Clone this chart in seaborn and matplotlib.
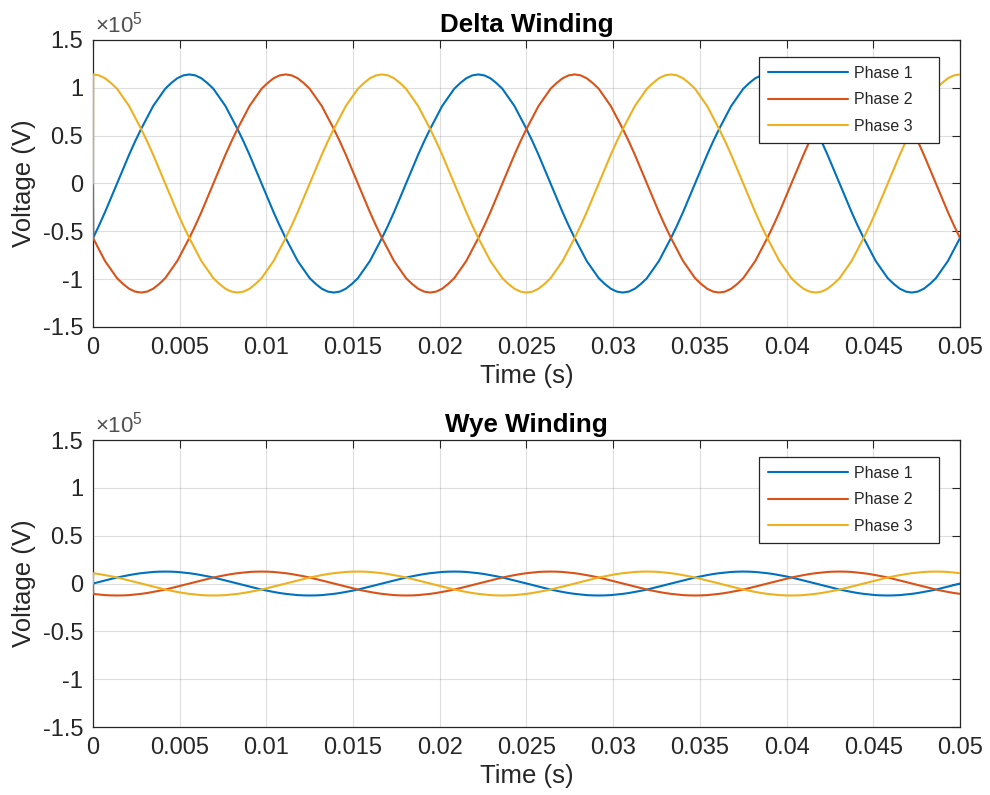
import numpy as np
import pandas as pd
import matplotlib
matplotlib.use("Agg")
import matplotlib.pyplot as plt
import seaborn as sns
from matplotlib.ticker import FuncFormatter, MultipleLocator

# sample times: t=0, then the waveform every 1/2880 s up to 0.05 s
time = np.concatenate([[0.0, 1e-5], np.arange(1, 145) / 2880])

# voltages in units of 1e5 V
delta_phase1 = [0,
    -0.57, -0.44, -0.3, -0.15, 0, 0.15, 0.3, 0.44, 0.57, 0.69, 0.81, 0.9, 0.99, 1.05, 1.1, 1.13, 1.14, 1.13, 1.1, 1.05, 0.99, 0.9, 0.81, 0.69,
    0.57, 0.44, 0.3, 0.15, 0, -0.15, -0.3, -0.44, -0.57, -0.69, -0.81, -0.9, -0.99, -1.05, -1.1, -1.13, -1.14, -1.13, -1.1, -1.05, -0.99, -0.9, -0.81, -0.69,
    -0.57, -0.44, -0.3, -0.15, 0, 0.15, 0.3, 0.44, 0.57, 0.69, 0.81, 0.9, 0.99, 1.05, 1.1, 1.13, 1.14, 1.13, 1.1, 1.05, 0.99, 0.9, 0.81, 0.69,
    0.57, 0.44, 0.3, 0.15, 0, -0.15, -0.3, -0.44, -0.57, -0.69, -0.81, -0.9, -0.99, -1.05, -1.1, -1.13, -1.14, -1.13, -1.1, -1.05, -0.99, -0.9, -0.81, -0.69,
    -0.57, -0.44, -0.3, -0.15, 0, 0.15, 0.3, 0.44, 0.57, 0.69, 0.81, 0.9, 0.99, 1.05, 1.1, 1.13, 1.14, 1.13, 1.1, 1.05, 0.99, 0.9, 0.81, 0.69,
    0.57, 0.44, 0.3, 0.15, 0, -0.15, -0.3, -0.44, -0.57, -0.69, -0.81, -0.9, -0.99, -1.05, -1.1, -1.13, -1.14, -1.13, -1.1, -1.05, -0.99, -0.9, -0.81, -0.69,
    -0.57]
delta_phase2 = [0,
    -0.57, -0.69, -0.81, -0.9, -0.99, -1.05, -1.1, -1.13, -1.14, -1.13, -1.1, -1.05, -0.99, -0.9, -0.81, -0.69, -0.57, -0.44, -0.3, -0.15, 0, 0.15, 0.3, 0.44,
    0.57, 0.69, 0.81, 0.9, 0.99, 1.05, 1.1, 1.13, 1.14, 1.13, 1.1, 1.05, 0.99, 0.9, 0.81, 0.69, 0.57, 0.44, 0.3, 0.15, 0, -0.15, -0.3, -0.44,
    -0.57, -0.69, -0.81, -0.9, -0.99, -1.05, -1.1, -1.13, -1.14, -1.13, -1.1, -1.05, -0.99, -0.9, -0.81, -0.69, -0.57, -0.44, -0.3, -0.15, 0, 0.15, 0.3, 0.44,
    0.57, 0.69, 0.81, 0.9, 0.99, 1.05, 1.1, 1.13, 1.14, 1.13, 1.1, 1.05, 0.99, 0.9, 0.81, 0.69, 0.57, 0.44, 0.3, 0.15, 0, -0.15, -0.3, -0.44,
    -0.57, -0.69, -0.81, -0.9, -0.99, -1.05, -1.1, -1.13, -1.14, -1.13, -1.1, -1.05, -0.99, -0.9, -0.81, -0.69, -0.57, -0.44, -0.3, -0.15, 0, 0.15, 0.3, 0.44,
    0.57, 0.69, 0.81, 0.9, 0.99, 1.05, 1.1, 1.13, 1.14, 1.13, 1.1, 1.05, 0.99, 0.9, 0.81, 0.69, 0.57, 0.44, 0.3, 0.15, 0, -0.15, -0.3, -0.44,
    -0.57]
delta_phase3 = [0,
    1.14, 1.13, 1.1, 1.05, 0.99, 0.9, 0.81, 0.69, 0.57, 0.44, 0.3, 0.15, 0, -0.15, -0.3, -0.44, -0.57, -0.69, -0.81, -0.9, -0.99, -1.05, -1.1, -1.13,
    -1.14, -1.13, -1.1, -1.05, -0.99, -0.9, -0.81, -0.69, -0.57, -0.44, -0.3, -0.15, 0, 0.15, 0.3, 0.44, 0.57, 0.69, 0.81, 0.9, 0.99, 1.05, 1.1, 1.13,
    1.14, 1.13, 1.1, 1.05, 0.99, 0.9, 0.81, 0.69, 0.57, 0.44, 0.3, 0.15, 0, -0.15, -0.3, -0.44, -0.57, -0.69, -0.81, -0.9, -0.99, -1.05, -1.1, -1.13,
    -1.14, -1.13, -1.1, -1.05, -0.99, -0.9, -0.81, -0.69, -0.57, -0.44, -0.3, -0.15, 0, 0.15, 0.3, 0.44, 0.57, 0.69, 0.81, 0.9, 0.99, 1.05, 1.1, 1.13,
    1.14, 1.13, 1.1, 1.05, 0.99, 0.9, 0.81, 0.69, 0.57, 0.44, 0.3, 0.15, 0, -0.15, -0.3, -0.44, -0.57, -0.69, -0.81, -0.9, -0.99, -1.05, -1.1, -1.13,
    -1.14, -1.13, -1.1, -1.05, -0.99, -0.9, -0.81, -0.69, -0.57, -0.44, -0.3, -0.15, 0, 0.15, 0.3, 0.44, 0.57, 0.69, 0.81, 0.9, 0.99, 1.05, 1.1, 1.13,
    1.14]

wye_phase1 = [0,
    0, 0.016, 0.032, 0.048, 0.063, 0.076, 0.088, 0.099, 0.108, 0.115, 0.121, 0.124, 0.125, 0.124, 0.121, 0.115, 0.108, 0.099, 0.088, 0.076, 0.063, 0.048, 0.032, 0.016,
    0, -0.016, -0.032, -0.048, -0.063, -0.076, -0.088, -0.099, -0.108, -0.115, -0.121, -0.124, -0.125, -0.124, -0.121, -0.115, -0.108, -0.099, -0.088, -0.076, -0.063, -0.048, -0.032, -0.016,
    0, 0.016, 0.032, 0.048, 0.063, 0.076, 0.088, 0.099, 0.108, 0.115, 0.121, 0.124, 0.125, 0.124, 0.121, 0.115, 0.108, 0.099, 0.088, 0.076, 0.063, 0.048, 0.032, 0.016,
    0, -0.016, -0.032, -0.048, -0.063, -0.076, -0.088, -0.099, -0.108, -0.115, -0.121, -0.124, -0.125, -0.124, -0.121, -0.115, -0.108, -0.099, -0.088, -0.076, -0.063, -0.048, -0.032, -0.016,
    0, 0.016, 0.032, 0.048, 0.063, 0.076, 0.088, 0.099, 0.108, 0.115, 0.121, 0.124, 0.125, 0.124, 0.121, 0.115, 0.108, 0.099, 0.088, 0.076, 0.063, 0.048, 0.032, 0.016,
    0, -0.016, -0.032, -0.048, -0.063, -0.076, -0.088, -0.099, -0.108, -0.115, -0.121, -0.124, -0.125, -0.124, -0.121, -0.115, -0.108, -0.099, -0.088, -0.076, -0.063, -0.048, -0.032, -0.016,
    0]
wye_phase2 = [0,
    -0.108, -0.115, -0.121, -0.124, -0.125, -0.124, -0.121, -0.115, -0.108, -0.099, -0.088, -0.076, -0.063, -0.048, -0.032, -0.016, 0, 0.016, 0.032, 0.048, 0.063, 0.076, 0.088, 0.099,
    0.108, 0.115, 0.121, 0.124, 0.125, 0.124, 0.121, 0.115, 0.108, 0.099, 0.088, 0.076, 0.063, 0.048, 0.032, 0.016, 0, -0.016, -0.032, -0.048, -0.063, -0.076, -0.088, -0.099,
    -0.108, -0.115, -0.121, -0.124, -0.125, -0.124, -0.121, -0.115, -0.108, -0.099, -0.088, -0.076, -0.063, -0.048, -0.032, -0.016, 0, 0.016, 0.032, 0.048, 0.063, 0.076, 0.088, 0.099,
    0.108, 0.115, 0.121, 0.124, 0.125, 0.124, 0.121, 0.115, 0.108, 0.099, 0.088, 0.076, 0.063, 0.048, 0.032, 0.016, 0, -0.016, -0.032, -0.048, -0.063, -0.076, -0.088, -0.099,
    -0.108, -0.115, -0.121, -0.124, -0.125, -0.124, -0.121, -0.115, -0.108, -0.099, -0.088, -0.076, -0.063, -0.048, -0.032, -0.016, 0, 0.016, 0.032, 0.048, 0.063, 0.076, 0.088, 0.099,
    0.108, 0.115, 0.121, 0.124, 0.125, 0.124, 0.121, 0.115, 0.108, 0.099, 0.088, 0.076, 0.063, 0.048, 0.032, 0.016, 0, -0.016, -0.032, -0.048, -0.063, -0.076, -0.088, -0.099,
    -0.108]
wye_phase3 = [0,
    0.108, 0.099, 0.088, 0.076, 0.063, 0.048, 0.032, 0.016, 0, -0.016, -0.032, -0.048, -0.063, -0.076, -0.088, -0.099, -0.108, -0.115, -0.121, -0.124, -0.125, -0.124, -0.121, -0.115,
    -0.108, -0.099, -0.088, -0.076, -0.063, -0.048, -0.032, -0.016, 0, 0.016, 0.032, 0.048, 0.063, 0.076, 0.088, 0.099, 0.108, 0.115, 0.121, 0.124, 0.125, 0.124, 0.121, 0.115,
    0.108, 0.099, 0.088, 0.076, 0.063, 0.048, 0.032, 0.016, 0, -0.016, -0.032, -0.048, -0.063, -0.076, -0.088, -0.099, -0.108, -0.115, -0.121, -0.124, -0.125, -0.124, -0.121, -0.115,
    -0.108, -0.099, -0.088, -0.076, -0.063, -0.048, -0.032, -0.016, 0, 0.016, 0.032, 0.048, 0.063, 0.076, 0.088, 0.099, 0.108, 0.115, 0.121, 0.124, 0.125, 0.124, 0.121, 0.115,
    0.108, 0.099, 0.088, 0.076, 0.063, 0.048, 0.032, 0.016, 0, -0.016, -0.032, -0.048, -0.063, -0.076, -0.088, -0.099, -0.108, -0.115, -0.121, -0.124, -0.125, -0.124, -0.121, -0.115,
    -0.108, -0.099, -0.088, -0.076, -0.063, -0.048, -0.032, -0.016, 0, 0.016, 0.032, 0.048, 0.063, 0.076, 0.088, 0.099, 0.108, 0.115, 0.121, 0.124, 0.125, 0.124, 0.121, 0.115,
    0.108]

phase_names = ["Phase 1", "Phase 2", "Phase 3"]
colors = ["#0072BD", "#D95319", "#EDB120"]
ink = "#262626"

sns.set_style("white")
plt.rcParams["font.family"] = ["Liberation Sans", "DejaVu Sans"]
plt.rcParams["mathtext.fontset"] = "custom"
plt.rcParams["mathtext.rm"] = "Liberation Sans"


def long_form(series):
    frames = []
    for name, vals in zip(phase_names, series):
        frames.append(pd.DataFrame({"t": time, "v": np.array(vals) * 1e5, "phase": name}))
    return pd.concat(frames, ignore_index=True)


fig = plt.figure(figsize=(9.9, 7.95), dpi=100)
ax_top = fig.add_axes([0.0939, 0.5887, 0.8758, 0.361])
ax_bot = fig.add_axes([0.0939, 0.0855, 0.8758, 0.361])

panels = [
    (ax_top, "Delta Winding", [delta_phase1, delta_phase2, delta_phase3]),
    (ax_bot, "Wye Winding", [wye_phase1, wye_phase2, wye_phase3]),
]

for ax, title, series in panels:
    df = long_form(series)
    sns.lineplot(data=df, x="t", y="v", hue="phase", palette=colors,
                 estimator=None, sort=False, lw=1.5, ax=ax)
    for line in ax.lines:
        line.set_zorder(3)
    ax.set_xlim(0, 0.05)
    ax.set_ylim(-1.5e5, 1.5e5)
    ax.xaxis.set_major_locator(MultipleLocator(0.005))
    ax.yaxis.set_major_locator(MultipleLocator(0.5e5))
    ax.xaxis.set_major_formatter(FuncFormatter(lambda v, p: f"{v:g}"))
    ax.yaxis.set_major_formatter(FuncFormatter(lambda v, p: f"{v / 1e5:g}"))
    ax.grid(True, color=ink, alpha=0.15, lw=0.8)
    ax.set_axisbelow(True)
    ax.tick_params(direction="in", length=6, width=0.8, top=True, right=True,
                   labelsize=17, colors=ink, pad=7)
    for sp in ax.spines.values():
        sp.set_color(ink)
        sp.set_linewidth(0.9)
    ax.set_title(title, fontsize=18.7, fontweight="bold", color="black", pad=6)
    ax.set_xlabel("Time (s)", fontsize=18.5, color=ink, labelpad=4)
    ax.set_ylabel("Voltage (V)", fontsize=18.5, color=ink, labelpad=5)
    ax.text(0.002, 1.008, r"$\times10^{5}$", transform=ax.transAxes,
            ha="left", va="bottom", fontsize=16, color="#505050")
    handles = ax.get_legend().legend_handles
    leg = ax.legend(handles, [n + "    " for n in phase_names],
                    loc="upper right", bbox_to_anchor=(0.9758, 0.9408),
                    borderaxespad=0, fontsize=11.5, frameon=True, fancybox=False,
                    framealpha=1, edgecolor=ink, handlelength=5, handletextpad=0.35,
                    borderpad=0.55, labelspacing=0.72)
    leg.get_frame().set_linewidth(0.9)
    for line in leg.get_lines():
        line.set_linewidth(1.5)

fig.savefig("out.png", dpi=100)
